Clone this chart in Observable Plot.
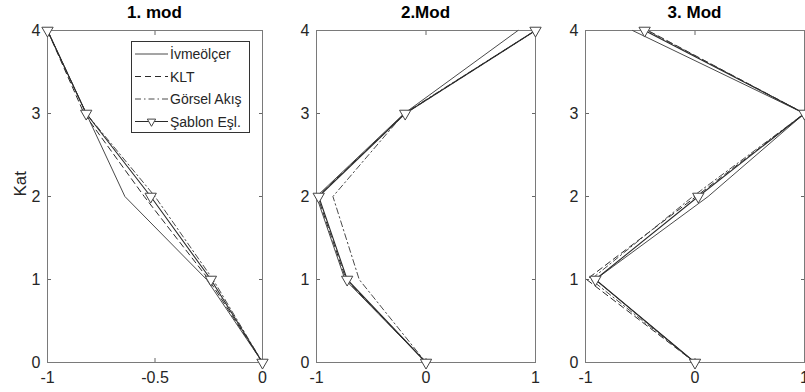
<!DOCTYPE html>
<html>
<head>
<meta charset="utf-8">
<script src="https://cdn.jsdelivr.net/npm/d3@7"></script>
<script src="https://cdn.jsdelivr.net/npm/@observablehq/plot@0.6"></script>
<style>
  body { margin: 0; background: #fff; }
  #wrap { position: relative; width: 805px; height: 392px; overflow: hidden; font-family: "Liberation Sans", Arial, sans-serif; }
  #wrap svg { position: absolute; top: 0; overflow: visible; }
  .ttl { position: absolute; top: 3px; font-weight: bold; font-size: 17px; color: #000; text-align: center; }
</style>
</head>
<body>
<div id="wrap"></div>
<script>
// ---- data ----
const floors = [0, 1, 2, 3, 4];
const seriesNames = ["İvmeölçer", "KLT", "Görsel Akış", "Şablon Eşl."];
const titles = ["1. mod", "2.Mod", "3. Mod"];
const yTicks = [0, 1, 2, 3, 4];
const xTicks1 = [-1, -0.5, 0];
const xTicks23 = [-1, 0, 1];

const ivme1   = [0, -0.26, -0.64, -0.82, -1];
const klt1    = [0, -0.25, -0.55, -0.83, -1];
const gorsel1 = [0, -0.23, -0.50, -0.82, -1];
const sablon1 = [0, -0.24, -0.52, -0.82, -1];

const ivme2   = [0, -0.74, -1.00, -0.20, 0.84];
const klt2    = [0, -0.73, -0.99, -0.19, 1];
const gorsel2 = [0, -0.61, -0.85, -0.20, 1];
const sablon2 = [0, -0.72, -0.98, -0.19, 1];

const ivme3   = [0, -0.91, 0.12, 1, -0.57];
const klt3    = [0, -0.99, 0.01, 1, -0.43];
const gorsel3 = [0, -0.95, -0.02, 1, -0.44];
const sablon3 = [0, -0.91, 0.03, 1, -0.46];

// ---- styles ----
const styles = [
  {stroke: "#4a4a4a", strokeWidth: 1, dash: null},
  {stroke: "#2a2a2a", strokeWidth: 1, dash: "6,4"},
  {stroke: "#4a4a4a", strokeWidth: 1, dash: "6,3,1.5,3"},
  {stroke: "#2a2a2a", strokeWidth: 1.1, dash: null}
];

const fmt = d => String(d);
const toRows = vals => vals.map((v, i) => ({x: v, y: floors[i]}));

function panel({left, width, marginLeft, marginRight, xDomain, xTicks, data, yLabel}) {
  const marks = [
    Plot.axisX(xTicks, {anchor: "bottom", tickSize: -4, tickPadding: 13, tickFormat: fmt, stroke: "#666", fill: "#262626", fontSize: 16, label: null}),
    Plot.axisX(xTicks, {anchor: "top", tickSize: -4, tickFormat: () => "", stroke: "#666", label: null}),
    Plot.axisY(yTicks, {anchor: "left", tickSize: -4, tickPadding: 11, tickFormat: fmt, stroke: "#666", fill: "#262626", fontSize: 16, label: null}),
    Plot.axisY(yTicks, {anchor: "right", tickSize: -4, tickFormat: () => "", stroke: "#666", label: null}),
    Plot.frame({stroke: "#7a7a7a"})
  ];
  if (yLabel) {
    marks.push(Plot.text([yLabel], {text: d => d, frameAnchor: "left", dx: -27, rotate: -90, fontSize: 17, fill: "#262626"}));
  }
  data.forEach((vals, k) => {
    const s = styles[k];
    marks.push(Plot.line(toRows(vals), {x: "x", y: "y", stroke: s.stroke, strokeWidth: s.strokeWidth, strokeDasharray: s.dash}));
  });
  marks.push(Plot.dot(toRows(data[3]), {x: "x", y: "y", symbol: "triangle", rotate: 180, r: 4.2, stroke: "#444", fill: "white", strokeWidth: 1}));
  const svg = Plot.plot({
    width, height: 392,
    marginTop: 30, marginBottom: 30, marginLeft, marginRight,
    x: {domain: xDomain, axis: null, label: null},
    y: {domain: [0, 4], axis: null, label: null},
    style: {fontFamily: "'Liberation Sans', Arial, sans-serif", fontSize: "16px", color: "#262626", background: "transparent"},
    marks
  });
  svg.style.left = left + "px";
  return svg;
}

const wrap = document.getElementById("wrap");
const p1 = panel({left: 0, width: 280, marginLeft: 47, marginRight: 18, xDomain: [-1, 0], xTicks: xTicks1, data: [ivme1, klt1, gorsel1, sablon1], yLabel: "Kat"});
const p2 = panel({left: 290, width: 270, marginLeft: 26, marginRight: 25, xDomain: [-1, 1], xTicks: xTicks23, data: [ivme2, klt2, gorsel2, sablon2], yLabel: null});
const p3 = panel({left: 560, width: 246, marginLeft: 25, marginRight: 2, xDomain: [-1, 1], xTicks: xTicks23, data: [ivme3, klt3, gorsel3, sablon3], yLabel: null});
wrap.append(p1, p2, p3);

// titles
[[47, 262], [316, 535], [585, 804]].forEach(([a, b], i) => {
  const d = document.createElement("div");
  d.className = "ttl";
  d.style.left = a + "px";
  d.style.width = (b - a) + "px";
  d.textContent = titles[i];
  wrap.appendChild(d);
});

// legend (inside panel 1)
const lg = d3.create("svg").attr("width", 120).attr("height", 93)
  .style("left", "131px").style("top", "41px");
lg.append("rect").attr("x", 0.5).attr("y", 0.5).attr("width", 118).attr("height", 91)
  .attr("fill", "white").attr("stroke", "#333").attr("stroke-width", 1);
seriesNames.forEach((name, k) => {
  const cy = 13 + k * 22.5;
  const s = styles[k];
  lg.append("line").attr("x1", 4).attr("x2", 37).attr("y1", cy).attr("y2", cy)
    .attr("stroke", s.stroke).attr("stroke-width", s.strokeWidth).attr("stroke-dasharray", s.dash);
  if (k === 3) {
    lg.append("path").attr("d", d3.symbol(d3.symbolTriangle, 30)()).attr("transform", `translate(20.5,${cy}) rotate(180)`)
      .attr("fill", "white").attr("stroke", "#444");
  }
  lg.append("text").attr("x", 39).attr("y", cy).attr("dy", "0.36em")
    .attr("font-family", "'Liberation Sans', Arial, sans-serif").attr("font-size", 14).attr("fill", "#262626").text(name);
});
wrap.appendChild(lg.node());
</script>
</body>
</html>
